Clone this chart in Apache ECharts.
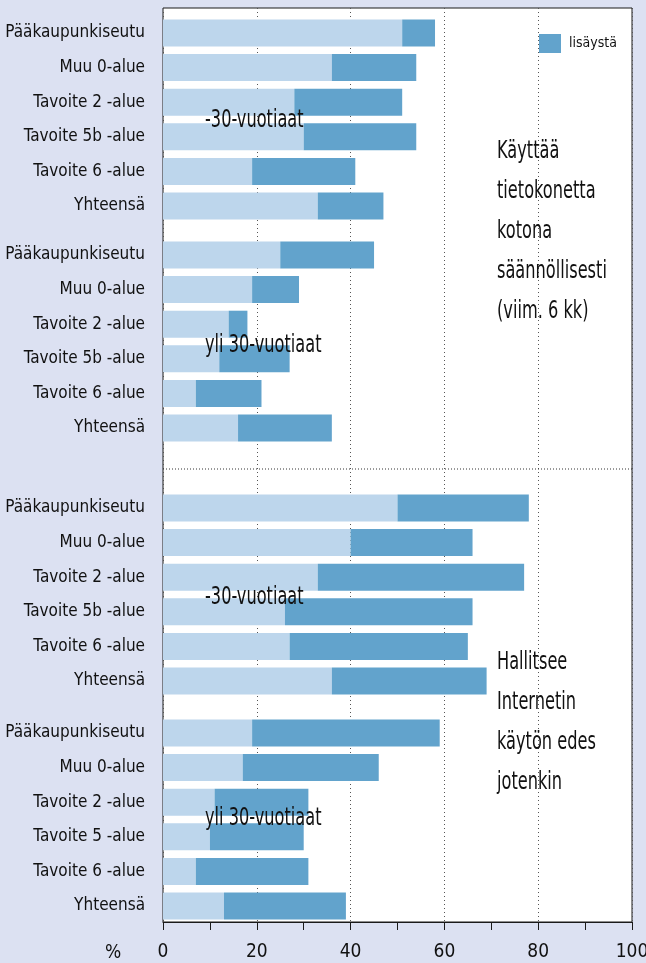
<!DOCTYPE html>
<html>
<head>
<meta charset="utf-8">
<script src="https://cdn.jsdelivr.net/npm/echarts@6/dist/echarts.min.js"></script>
<style>
    html, body { margin: 0; padding: 0; background: #dce1f2; }
    #chart { width: 646px; height: 963px; }
</style>
</head>
<body>
<div id="chart"></div>
<script>
const FONT = "'Liberation Sans Narrow', 'DejaVu Sans Condensed', 'Roboto Condensed', sans-serif";

// Alueet (ylhäältä alas)
const regionsA = ['Pääkaupunkiseutu', 'Muu 0-alue', 'Tavoite 2 -alue', 'Tavoite 5b -alue', 'Tavoite 6 -alue', 'Yhteensä'];
const regionsB = ['Pääkaupunkiseutu', 'Muu 0-alue', 'Tavoite 2 -alue', 'Tavoite 5 -alue', 'Tavoite 6 -alue', 'Yhteensä'];

// Käyttää tietokonetta kotona, -30-vuotiaat
const compYoungBase = [51, 36, 28, 30, 19, 33];
const compYoungAdd  = [7, 18, 23, 24, 22, 14];
// Käyttää tietokonetta kotona, yli 30-vuotiaat
const compOldBase = [25, 19, 14, 12, 7, 16];
const compOldAdd  = [20, 10, 4, 15, 14, 20];
// Hallitsee Internetin käytön, -30-vuotiaat
const netYoungBase = [50, 40, 33, 26, 27, 36];
const netYoungAdd  = [28, 26, 44, 40, 38, 33];
// Hallitsee Internetin käytön, yli 30-vuotiaat
const netOldBase = [19, 17, 11, 10, 7, 13];
const netOldAdd  = [40, 29, 20, 20, 24, 26];

const groupTitles = ['-30-vuotiaat', 'yli 30-vuotiaat', '-30-vuotiaat', 'yli 30-vuotiaat'];
const noteComputer = ['Käyttää', 'tietokonetta', 'kotona', 'säännöllisesti', '(viim. 6 kk)'];
const noteInternet = ['Hallitsee', 'Internetin', 'käytön edes', 'jotenkin'];

const groups = [
    { cats: regionsA, base: compYoungBase, add: compYoungAdd, top: 15.7, titleY: 120 },
    { cats: regionsA, base: compOldBase,   add: compOldAdd,   top: 237.7, titleY: 345 },
    { cats: regionsA, base: netYoungBase,  add: netYoungAdd,  top: 490.7, titleY: 597 },
    { cats: regionsB, base: netOldBase,    add: netOldAdd,    top: 715.7, titleY: 818 }
];

const LIGHT = '#bdd6ec';
const DARK = '#62a3cc';

const chart = echarts.init(document.getElementById('chart'));

const grid = [{
    left: 163, top: 8, width: 469, height: 914, outerBoundsMode: 'none', containLabel: false,
    show: true, backgroundColor: '#fff', borderColor: '#1a1a1a', borderWidth: 1
}];
const xAxis = [{
    gridIndex: 0, type: 'value', min: 0, max: 100, interval: 20,
    axisLine: { show: true, lineStyle: { color: '#1a1a1a' } },
    axisTick: { show: true, length: 8, lineStyle: { color: '#1a1a1a' } },
    minorTick: { show: true, splitNumber: 2, length: 8, lineStyle: { color: '#1a1a1a' } },
    axisLabel: { fontFamily: FONT, fontSize: 19, color: '#111', margin: 21 },
    splitLine: { show: true, lineStyle: { type: [1, 3], color: '#555' } }
}];
const yAxis = [{ gridIndex: 0, type: 'value', show: false }];
const series = [];
const graphic = [];

// tiivistetty teksti (kuvan fontti on kapea)
function narrowText(txt, x, y) {
    return {
        type: 'text', x: x, y: y, scaleX: 0.72, z: 100,
        style: { text: txt, font: '25px ' + FONT, fill: '#111', verticalAlign: 'middle' }
    };
}

groups.forEach(function (g, i) {
    const k = i + 1;
    grid.push({ left: 163, width: 469, top: g.top, height: 207.6, outerBoundsMode: 'none', containLabel: false });
    xAxis.push({ gridIndex: k, type: 'value', min: 0, max: 100, show: false });
    yAxis.push({
        gridIndex: k, type: 'category', data: g.cats, inverse: true,
        axisLine: { show: false }, axisTick: { show: false },
        axisLabel: { fontFamily: FONT, fontSize: 17, color: '#111', margin: 18 }
    });
    series.push({
        name: 'aiemmin', type: 'bar', stack: 's' + i, xAxisIndex: k, yAxisIndex: k,
        barWidth: 27, data: g.base, itemStyle: { color: LIGHT }
    });
    series.push({
        name: 'lisäystä', type: 'bar', stack: 's' + i, xAxisIndex: k, yAxisIndex: k,
        barWidth: 27, data: g.add, itemStyle: { color: DARK }
    });
    graphic.push(narrowText(groupTitles[i], 205, g.titleY));
});

// erotinviiva ryhmien välissä
graphic.push({
    type: 'line', shape: { x1: 163, y1: 469, x2: 632, y2: 469 },
    style: { stroke: '#333', lineWidth: 1, lineDash: [1, 2] }, z: 50
});
graphic.push({
    type: 'text', x: 113, y: 953,
    style: { text: '%', font: '19px ' + FONT, fill: '#111', align: 'center', verticalAlign: 'middle' }
});
noteComputer.forEach(function (t, j) {
    graphic.push(narrowText(t, 497, 151 + j * 40));
});
noteInternet.forEach(function (t, j) {
    graphic.push(narrowText(t, 497, 662 + j * 40));
});

chart.setOption({
    animation: false,
    backgroundColor: '#dce1f2',
    textStyle: { fontFamily: FONT },
    legend: {
        data: ['lisäystä'], left: 534, top: 29, icon: 'rect',
        itemWidth: 22, itemHeight: 19, selectedMode: false,
        textStyle: { fontFamily: FONT, fontSize: 14, color: '#111', padding: [0, 0, 0, 3] }
    },
    grid: grid,
    xAxis: xAxis,
    yAxis: yAxis,
    series: series,
    graphic: graphic
});
</script>
</body>
</html>
